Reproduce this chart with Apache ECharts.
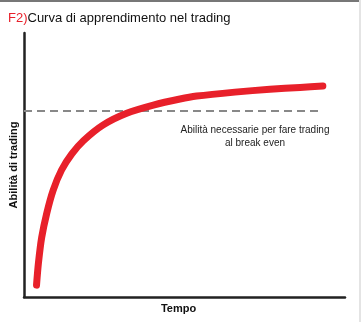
<!DOCTYPE html>
<html><head><meta charset="utf-8">
<script src="https://cdn.jsdelivr.net/npm/echarts@6/dist/echarts.min.js"></script>
<style>html,body{margin:0;padding:0;background:#fff}#c{width:361px;height:322px}</style>
</head><body><div id="c"></div>
<script>
const titlePrefix = 'F2)';
const titleText = 'Curva di apprendimento nel trading';
const xName = 'Tempo';
const yName = 'Abilità di trading';
const noteLines = ['Abilità necessarie per fare trading', 'al break even'];
const curveX = [3.9, 4.5, 5.5, 7.1, 9.1, 11.7, 14.9, 18.5, 24.7, 32.0, 40.3, 48.6, 53.8, 65.7, 76.6, 86, 93.1];
const curveY = [4.5, 12.9, 22.5, 31.8, 40.5, 48.1, 54.2, 59.2, 65.2, 69.6, 72.7, 75.0, 76.1, 77.6, 78.7, 79.4, 79.9];
const breakEvenLevel = 70.5;
const breakEvenX = [0, 93.1];

const chart = echarts.init(document.getElementById('c'));
chart.setOption({
  animation: false,
  backgroundColor: '#fff',
  title: {
    text: '{r|' + titlePrefix + '}{k|' + titleText + '}',
    left: 3, top: 7,
    textStyle: {
      fontWeight: 'normal',
      rich: {
        r: {color: '#e8202a', fontSize: 13, fontWeight: 'normal', fontFamily: 'Liberation Sans, Arial, sans-serif'},
        k: {color: '#111', fontSize: 13, fontWeight: 'normal', fontFamily: 'Liberation Sans, Arial, sans-serif'}
      }
    }
  },
  grid: {left: 24, right: 16, top: 33, bottom: 25, outerBoundsMode: 'none', containLabel: false},
  xAxis: {
    type: 'value', min: 0, max: 100,
    name: xName, nameLocation: 'middle', nameGap: 6,
    nameTextStyle: {fontWeight: 'bold', fontSize: 11, color: '#111', padding: [0, 12, 0, 0]},
    axisLine: {lineStyle: {color: '#222', width: 2.5}},
    axisTick: {show: false}, axisLabel: {show: false}, splitLine: {show: false}
  },
  yAxis: {
    type: 'value', min: 0, max: 100,
    name: yName, nameLocation: 'middle', nameGap: 5,
    nameTextStyle: {fontWeight: 'bold', fontSize: 11, color: '#111'},
    axisLine: {show: true, lineStyle: {color: '#222', width: 2.5}},
    axisTick: {show: false}, axisLabel: {show: false}, splitLine: {show: false}
  },
  series: [
    {
      type: 'line', symbol: 'none', silent: true,
      data: breakEvenX.map(x => [x, breakEvenLevel]),
      lineStyle: {color: '#888', width: 2, type: [8, 5]}
    },
    {
      type: 'line', symbol: 'none', smooth: 0.25, silent: true,
      data: curveX.map((x, i) => [x, curveY[i]]),
      lineStyle: {color: '#e8202a', width: 7, cap: 'round', join: 'round'}
    }
  ],
  graphic: [
    {type: 'text', x: 255, y: 124, style: {text: noteLines.join('\n'), align: 'center', fontSize: 10, lineHeight: 13, fill: '#222', fontFamily: 'Liberation Sans, Arial, sans-serif'}},
    {type: 'rect', shape: {x: 0, y: 0, width: 361, height: 2}, style: {fill: '#777'}},
    {type: 'rect', shape: {x: 359, y: 0, width: 2, height: 322}, style: {fill: '#e4e4e4'}}
  ]
});
</script></body></html>
